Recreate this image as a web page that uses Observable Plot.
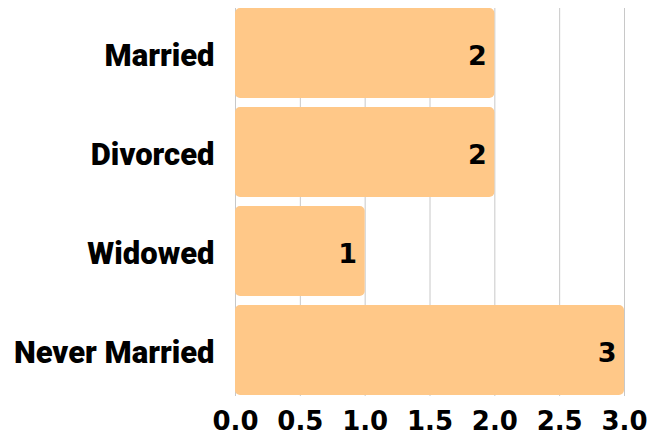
<!DOCTYPE html>
<html><head><meta charset="utf-8">
<script src="https://cdn.jsdelivr.net/npm/d3@7"></script>
<script src="https://cdn.jsdelivr.net/npm/@observablehq/plot@0.6"></script>
<style>
html,body{margin:0;padding:0;background:#fff;}
</style>
</head><body>
<div id="chart"></div>
<script>
const categories = ["Married", "Divorced", "Widowed", "Never Married"];
const counts = [2, 2, 1, 3];
const xTicks = [0, 0.5, 1, 1.5, 2, 2.5, 3];

const data = categories.map((c, i) => ({status: c, count: counts[i]}));

const chart = Plot.plot({
  width: 666,
  height: 440,
  marginLeft: 235,
  marginRight: 42,
  marginTop: 8,
  marginBottom: 44,
  style: {fontFamily: "Roboto, sans-serif", background: "#fff"},
  x: {domain: [0, 3], ticks: xTicks, tickFormat: d3.format(".1f"), label: null},
  y: {domain: categories, paddingInner: 0.09, paddingOuter: 0, label: null},
  marks: [
    Plot.gridX(xTicks, {stroke: "#c8c8c8", strokeOpacity: 1, strokeWidth: 1}),
    Plot.barX(data, {x: "count", y: "status", fill: "#FFC888", rx: 5}),
    Plot.text(data, {x: "count", y: "status", text: d => String(d.count), textAnchor: "end", dx: -8, dy: 3,
      fill: "#000", fontSize: 27, fontWeight: "bold", fontFamily: "DejaVu Sans, sans-serif"}),
    Plot.axisX(xTicks, {tickSize: 0, tickPadding: 15, fontSize: 26, fontWeight: "bold",
      fontFamily: "DejaVu Sans, sans-serif", fill: "#000", tickFormat: d3.format(".1f"), label: null}),
    Plot.axisY({tickSize: 0, tickPadding: 21, dy: 3, fontSize: 31, fontWeight: 900, fill: "#000", label: null})
  ]
});
document.getElementById("chart").append(chart);
</script>
</body></html>
